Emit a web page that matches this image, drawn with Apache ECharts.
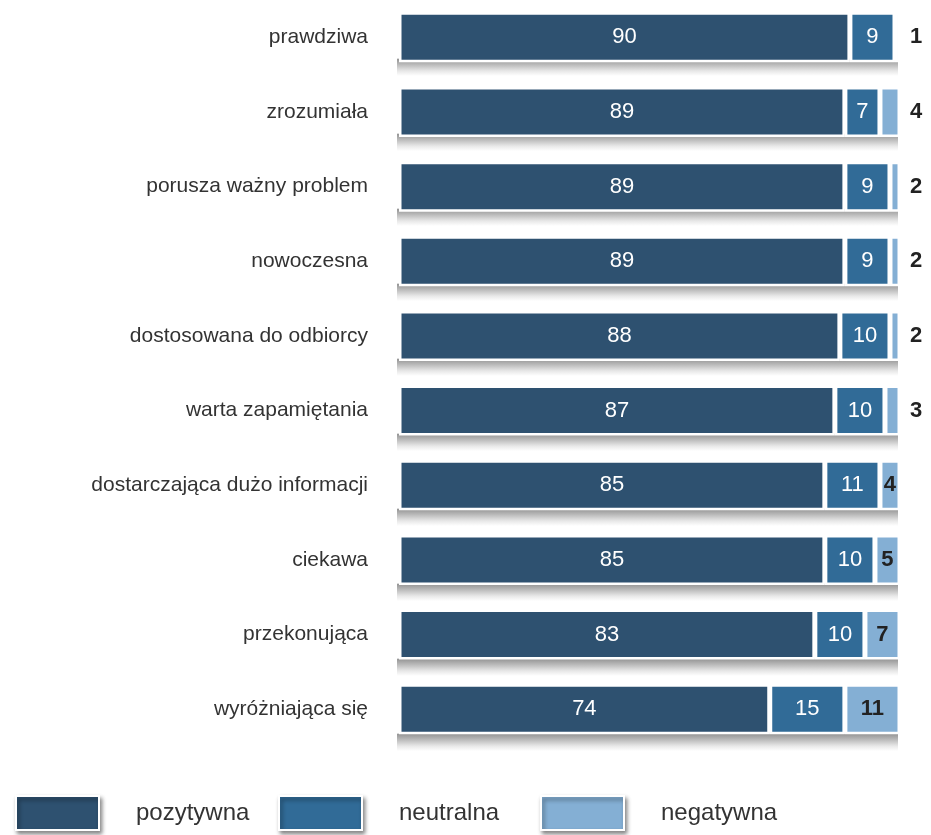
<!DOCTYPE html>
<html>
<head>
<meta charset="utf-8">
<script src="https://cdn.jsdelivr.net/npm/echarts@6/dist/echarts.min.js"></script>
<style>
html,body{margin:0;padding:0;background:#fff;}
#chart{width:931px;height:835px;}
</style>
</head>
<body>
<div id="chart"></div>
<script>
const categories = ['prawdziwa','zrozumiała','porusza ważny problem','nowoczesna','dostosowana do odbiorcy','warta zapamiętania','dostarczająca dużo informacji','ciekawa','przekonująca','wyróżniająca się'];
const pozytywna = [90,89,89,89,88,87,85,85,83,74];
const neutralna = [9,7,9,9,10,10,11,10,10,15];
const negatywna = [1,4,2,2,2,3,4,5,7,11];
const seriesNames = ['pozytywna','neutralna','negatywna'];

const colors = ['#2e5170','#316b97','#84afd4'];
const FONT = '"Liberation Sans", Arial, Helvetica, sans-serif';
const outsideCount = 6; // first rows show the negative label to the right of the bar

const totals = categories.map((c,i)=>pozytywna[i]+neutralna[i]+negatywna[i]);

const chart = echarts.init(document.getElementById('chart'));
const barW = 50;
const commonItem = {borderColor:'#fff', borderWidth:2.5};

const legendBase = {
  orient:'horizontal', top:795, padding:0, itemWidth:83, itemHeight:34, icon:'rect',
  itemStyle:{borderColor:'#fff', borderWidth:2, shadowBlur:4, shadowOffsetX:2, shadowOffsetY:3, shadowColor:'rgba(0,0,0,0.45)'},
  textStyle:{fontFamily:FONT, fontSize:24, color:'#333', padding:[0,0,0,32]},
  selectedMode:false
};

chart.setOption({
  animation:false,
  backgroundColor:'#fff',
  grid:[
    {left:399, right:31, top:-3.5, height:750},
    {left:397, right:33, top:13.5, height:750}
  ],
  xAxis:[
    {gridIndex:0, type:'value', min:0, max:100, show:false},
    {gridIndex:1, type:'value', min:0, max:100, show:false}
  ],
  yAxis:[
    {gridIndex:0, type:'category', inverse:true, data:categories,
     axisLine:{show:false}, axisTick:{show:false}, splitLine:{show:false},
     axisLabel:{margin:31, fontFamily:FONT, fontSize:21, color:'#333'}},
    {gridIndex:1, type:'category', inverse:true, data:categories, show:false}
  ],
  legend:[
    Object.assign({}, legendBase, {left:15, data:['pozytywna']}),
    Object.assign({}, legendBase, {left:278, data:['neutralna']}),
    Object.assign({}, legendBase, {left:540, data:['negatywna'], textStyle:Object.assign({}, legendBase.textStyle, {padding:[12,0,0,32]})})
  ],
  series:[
    {
      type:'bar', name:'shadow', xAxisIndex:1, yAxisIndex:1, barWidth:barW, z:1,
      data: totals,
      itemStyle:{
        color:new echarts.graphic.LinearGradient(0,0,0,1,[
          {offset:0, color:'rgba(150,150,150,0)'},
          {offset:0.64, color:'rgba(150,150,150,0)'},
          {offset:0.67, color:'#989898'},
          {offset:0.76, color:'#b6b6b6'},
          {offset:0.9, color:'#e8e8e8'},
          {offset:1, color:'#ffffff'}
        ])
      },
      silent:true, legendHoverLink:false
    },
    {
      type:'bar', name:seriesNames[0], stack:'s', barWidth:barW, z:3,
      data:pozytywna,
      itemStyle:Object.assign({color:colors[0]}, commonItem),
      label:{show:true, position:'inside', color:'#fff', fontFamily:FONT, fontSize:22}
    },
    {
      type:'bar', name:seriesNames[1], stack:'s', barWidth:barW, z:3,
      data:neutralna,
      itemStyle:Object.assign({color:colors[1]}, commonItem),
      label:{show:true, position:'inside', color:'#fff', fontFamily:FONT, fontSize:22}
    },
    {
      type:'bar', name:seriesNames[2], stack:'s', barWidth:barW, z:3,
      data:negatywna.map((v,i)=>({
        value:v,
        label: i < outsideCount ? {position:'right', distance:10} : {position:'inside'}
      })),
      itemStyle:Object.assign({color:colors[2]}, commonItem),
      label:{show:true, color:'#222', fontWeight:'bold', fontFamily:FONT, fontSize:22}
    }
  ]
});
</script>
</body>
</html>
